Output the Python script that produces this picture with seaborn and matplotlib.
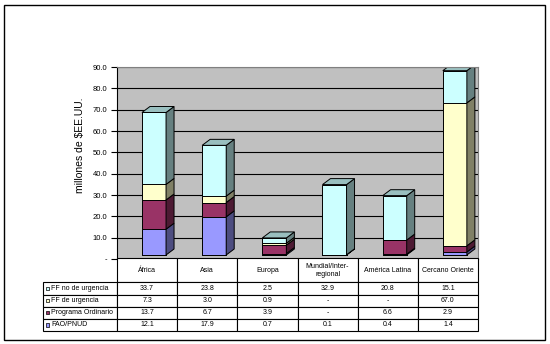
import numpy as np
import matplotlib
matplotlib.use("Agg")
import matplotlib.pyplot as plt
from matplotlib.colors import to_rgb
from matplotlib.patches import Polygon, Rectangle
from matplotlib.transforms import ScaledTranslation
import seaborn as sns

plt.rcParams['font.family'] = ['Liberation Sans', 'DejaVu Sans']

# datos (millones de $EE.UU.)
regions = ["África", "Asia", "Europa", "Mundial/Inter-\nregional", "América Latina", "Cercano Oriente"]
fao_pnud = [12.1, 17.9, 0.7, 0.1, 0.4, 1.4]
programa_ordinario = [13.7, 6.7, 3.9, 0.0, 6.6, 2.9]
ff_urgencia = [7.3, 3.0, 0.9, 0.0, 0.0, 67.0]
ff_no_urgencia = [33.7, 23.8, 2.5, 32.9, 20.8, 15.1]

series = [fao_pnud, programa_ordinario, ff_urgencia, ff_no_urgencia]
series_names = ["FAO/PNUD", "Programa Ordinario", "FF de urgencia", "FF no de urgencia"]
series_colors = ["#9999FF", "#993366", "#FFFFCC", "#CCFFFF"]
y_ticks = [0, 10, 20, 30, 40, 50, 60, 70, 80, 90]


def shade(c, f):
    return tuple(np.array(to_rgb(c)) * f)


W, H = 550, 344
fig = plt.figure(figsize=(W / 100, H / 100), dpi=100)
ax = fig.add_axes([117 / W, 85 / H, 361 / W, 192 / H])

# stacked bars: draw cumulative totals from the top down
cum = np.cumsum(series, axis=0)
for k in range(3, -1, -1):
    sns.barplot(x=regions, y=cum[k], color=series_colors[k], saturation=1,
                width=0.4, edgecolor="black", linewidth=0.7, ax=ax)

# small lift of the bars (3D floor)
lift = ax.transData + ScaledTranslation(0, 0.04, fig.dpi_scale_trans)
for p in ax.patches:
    p.set_transform(lift)

# 3D depth: sides and top
dx = 8 / (361 / 6)
dy = 6 * 90 / 192
totals = list(ax.patches[:len(regions)])
for i, bar in enumerate(totals):
    x0 = bar.get_x()
    x1 = x0 + bar.get_width()
    bottom = 0.0
    for k in range(4):
        v = series[k][i]
        if v <= 0:
            continue
        top = bottom + v
        ax.add_patch(Polygon([(x1, bottom), (x1 + dx, bottom + dy), (x1 + dx, top + dy), (x1, top)],
                             closed=True, fc=shade(series_colors[k], 0.5), ec="black", lw=0.7,
                             transform=lift))
        bottom = top
    T = bar.get_height()
    ax.add_patch(Polygon([(x0, T), (x1, T), (x1 + dx, T + dy), (x0 + dx, T + dy)],
                         closed=True, fc=shade(series_colors[3], 0.75), ec="black", lw=0.7,
                         transform=lift))

ax.set_xlim(-0.615, 5.385)
ax.set_ylim(0, 90)
ax.set_facecolor("#C0C0C0")
ax.set_axisbelow(True)
ax.yaxis.grid(True, color="black", lw=0.8)
ax.set_yticks(y_ticks)
ax.set_yticklabels(["-" if t == 0 else f"{t:.1f}" for t in y_ticks])
ax.tick_params(axis="y", length=4, width=0.8, labelsize=5.5, pad=3)
ax.set_xticks([])
ax.set_xlabel("")
ax.set_ylabel("millones de \\$EE.UU.", fontsize=7.5)
ax.yaxis.set_label_coords(-0.088, 0.59)
for s in ["left", "bottom"]:
    ax.spines[s].set_color("black")
    ax.spines[s].set_linewidth(0.8)
for s in ["top", "right"]:
    ax.spines[s].set_color("#808080")
    ax.spines[s].set_linewidth(0.8)

# data table
tax = fig.add_axes([43 / W, 13 / H, 435 / W, 73 / H])
tax.axis("off")


def fmt(v):
    return "-" if v == 0 else f"{v:.1f}"


table_rows = list(zip(series_names, series))[::-1]
cell_text = [[name] + [fmt(v) for v in vals] for name, vals in table_rows]
col_w = [74 / 435] + [361 / 6 / 435] * len(regions)
tbl = tax.table(cellText=cell_text, colLabels=[""] + regions, cellLoc="center",
                colWidths=col_w, bbox=[0, 0, 1, 1])
tbl.auto_set_font_size(False)
tbl.set_fontsize(5)
row_h = tbl[1, 0].get_height()
for (r, c), cell in tbl.get_celld().items():
    cell.set_linewidth(0.8)
    if r == 0:
        cell.set_height(2 * row_h)
    if r == 0 and c == 0:
        cell.visible_edges = "open"
    if c == 0 and r > 0:
        cell.PAD = 0.11
        cell.get_text().set_ha("left")
        cell._loc = "left"

n = len(table_rows)
key_y = [(n - i - 0.5) / (n + 2) for i in range(n)]
tax.scatter([4.5 / 435] * n, key_y, marker="s", s=6,
            c=[series_colors[series_names.index(nm)] for nm, _ in table_rows],
            edgecolors="black", linewidths=0.5, zorder=10, clip_on=False)
tax.set_xlim(0, 1)
tax.set_ylim(0, 1)

fig.add_artist(Rectangle((4 / W, 4 / H), 541 / W, 335 / H, transform=fig.transFigure,
                         fill=False, ec="black", lw=1))

fig.savefig("out.png", dpi=100)
